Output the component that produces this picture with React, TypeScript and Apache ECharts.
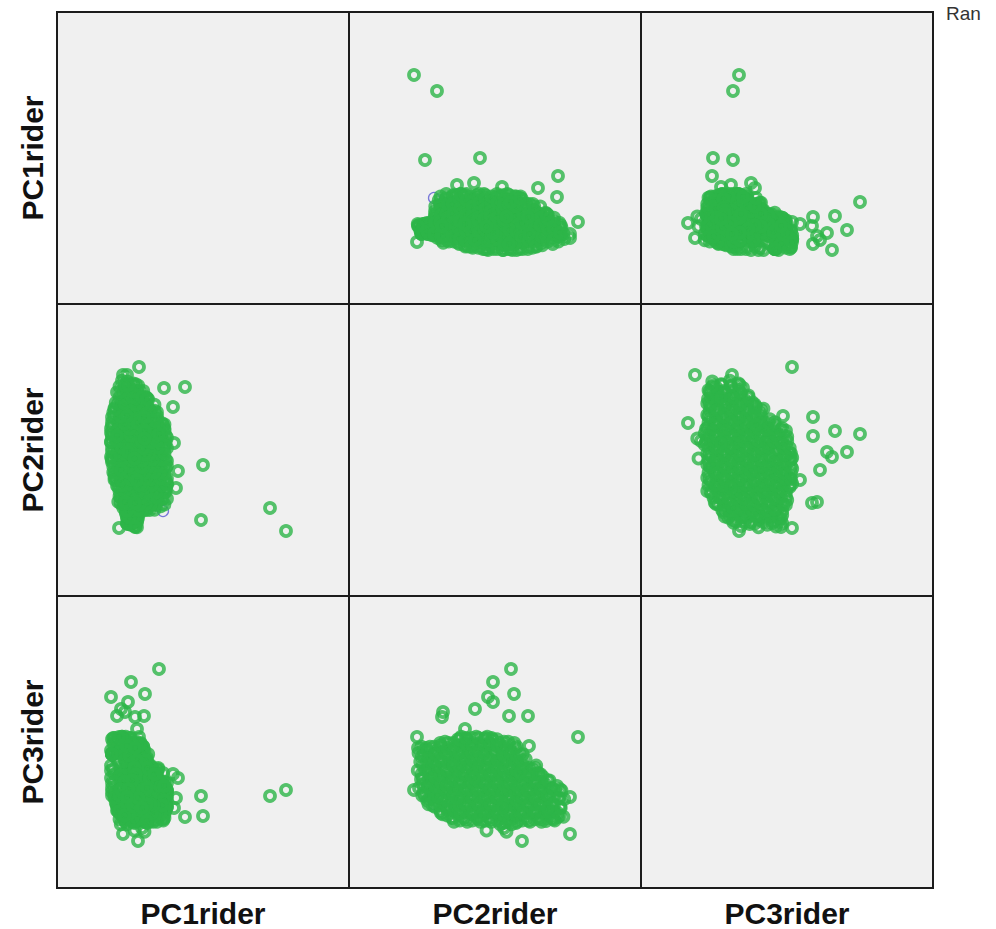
import React, { useEffect, useRef } from "react";
import * as echarts from "echarts";

// Variables of the scatter matrix (row / column order)
const VARS = ["PC1rider", "PC2rider", "PC3rider"];
const AXIS_MIN = [-3, -5, -4];
const AXIS_MAX = [8.68, 6.68, 7.68];
const LEGEND_TITLE = "Ran";

// Each case: [PC1rider, PC2rider, PC3rider] (estimated factor scores)
const coreCases: number[][] = [
  [0.1, -2.2, 0], [-0.15, -2.12, 0.35], [0.2, -2.25, 0.7], [-0.05, -2.15, 1.05], [0.15, -2.22, 1.4], [-0.2, -2.1, 1.65],
  [-0.1, -1.87, -0.5], [0.2, -2.01, -0.2], [-0.2, -1.85, 0.1], [0.05, -2.05, 0.4], [-0.05, -1.95, 0.7], [0.24, -1.89, 1.0], [-0.15, -2.03, 1.3], [0.1, -1.91, 1.6],
  [0.15, -1.78, -0.45], [-0.2, -1.6, -0.15], [0.25, -1.74, 0.15], [-0.05, -1.64, 0.45], [0.1, -1.8, 0.75], [-0.25, -1.68, 1.05], [0.2, -1.61, 1.35], [0, -1.76, 1.65], [-0.15, -1.65, -0.7],
  [0.8, -1.35, -0.9], [-0.2, -1.5, -0.6], [1.15, -1.41, -0.3], [0.3, -1.55, 0], [1.0, -1.37, 0.3], [-0.35, -1.47, 0.6], [0.6, -1.54, 0.9], [0.15, -1.39, 1.2], [0.45, -1.49, 1.5], [0, -1.35, 1.8],
  [0.25, -1.26, -1.05], [1.4, -1.11, -0.75], [-0.35, -1.3, -0.45], [1.05, -1.17, -0.15], [1.25, -1.1, 0.15], [0.05, -1.28, 0.45], [0.85, -1.15, 0.75], [-0.55, -1.23, 1.05], [0.65, -1.12, 1.35], [0.45, -1.3, 1.65], [-0.15, -1.16, 1.85],
  [1.1, -0.88, -1.2], [-0.3, -1.05, -0.9], [0.7, -0.93, -0.6], [1.3, -0.85, -0.3], [-0.5, -1.01, 0], [0.9, -0.91, 0.3], [0.3, -1.04, 0.6], [0.5, -0.85, 0.9], [-0.1, -0.98, 1.2], [0.1, -0.89, 1.5], [-0.2, -1.03, 1.8],
  [0.55, -0.8, -1.35], [0, -0.65, -1.05], [1.35, -0.72, -0.75], [0.2, -0.61, -0.45], [0.95, -0.77, -0.15], [1.15, -0.6, 0.15], [-0.4, -0.75, 0.45], [0.75, -0.68, 0.75], [0.35, -0.8, 1.05], [-0.2, -0.62, 1.35], [0.1, -0.74, 1.65], [-0.55, -0.64, 1.95],
  [1.3, -0.41, -1.2], [-0.05, -0.54, -0.9], [0.9, -0.35, -0.6], [1.4, -0.5, -0.3], [-0.45, -0.38, 0], [1.1, -0.55, 0.3], [0.15, -0.42, 0.6], [0.7, -0.52, 0.9], [-0.65, -0.36, 1.2], [0.5, -0.47, 1.5], [0.35, -0.35, 1.8], [-0.25, -0.51, 2.05],
  [0.1, -0.27, -1.35], [1.2, -0.1, -1.05], [-0.5, -0.24, -0.75], [0.8, -0.14, -0.45], [1.4, -0.3, -0.15], [0.3, -0.18, 0.15], [1.0, -0.11, 0.45], [-0.1, -0.28, 0.75], [0.6, -0.15, 1.05], [-0.7, -0.23, 1.35], [0.45, -0.12, 1.65], [-0.3, -0.3, 1.95],
  [0.4, 0.15, -1.2], [-0.6, 0, -0.9], [1.15, 0.08, -0.6], [0, -0.05, -0.3], [1.35, 0.12, 0], [0.75, 0.03, 0.3], [0.95, -0.03, 0.6], [-0.2, 0.14, 0.9], [0.55, -0.01, 1.2], [0.2, 0.1, 1.5], [-0.75, -0.05, 1.8], [-0.4, 0.09, 2.05],
  [0.85, 0.26, -1.35], [0.05, 0.38, -1.05], [1.4, 0.2, -0.75], [-0.55, 0.35, -0.45], [0.65, 0.28, -0.15], [1.25, 0.4, 0.15], [-0.15, 0.23, 0.45], [1.05, 0.33, 0.75], [0.45, 0.21, 1.05], [-0.8, 0.36, 1.35], [0.25, 0.25, 1.65], [-0.35, 0.4, 1.95],
  [-0.2, 0.61, -1.2], [1.35, 0.45, -0.9], [0.55, 0.64, -0.6], [-0.8, 0.52, -0.3], [1.15, 0.59, 0], [0, 0.47, 0.3], [0.95, 0.65, 0.6], [0.75, 0.5, 0.9], [0.35, 0.57, 1.2], [-0.6, 0.45, 1.5], [0.15, 0.62, 1.8], [-0.4, 0.53, 2.05],
  [0.5, 0.7, -1.35], [-0.45, 0.84, -1.05], [0.9, 0.74, -0.75], [1.3, 0.9, -0.45], [-0.8, 0.77, -0.15], [1.1, 0.87, 0.15], [0.1, 0.71, 0.45], [0.7, 0.82, 0.75], [-0.25, 0.88, 1.05], [0.3, 0.75, 1.35], [-0.05, 0.9, 1.65], [-0.6, 0.73, 1.95],
  [0.25, 1.13, -1.2], [1.05, 0.98, -0.9], [-0.65, 1.15, -0.6], [0.65, 1.01, -0.3], [1.3, 1.07, 0], [-0.3, 0.95, 0.3], [0.85, 1.11, 0.6], [0.1, 0.97, 0.9], [0.45, 1.09, 1.2], [-0.84, 1.15, 1.5], [-0.1, 0.99, 1.8], [-0.45, 1.05, -1.45],
  [1.0, 1.25, -1.35], [-0.35, 1.4, -1.05], [0.2, 1.22, -0.75], [1.4, 1.33, -0.45], [0.6, 1.2, -0.15], [1.2, 1.36, 0.15], [-0.55, 1.28, 0.45], [0.8, 1.39, 0.75], [0.4, 1.23, 1.05], [-0.8, 1.35, 1.35], [0, 1.2, 1.65], [-0.15, 1.37, 1.85],
  [-0.05, 1.65, -1.2], [0.9, 1.51, -0.9], [1.3, 1.62, -0.6], [-0.6, 1.45, -0.3], [0.35, 1.6, 0], [1.1, 1.49, 0.3], [0.7, 1.64, 0.6], [-0.84, 1.53, 0.9], [0.5, 1.58, 1.2], [0.15, 1.46, 1.5], [-0.4, 1.61, 1.8], [-0.2, 1.5, -1.45],
  [0.7, 1.72, -1.35], [1.3, 1.86, -1.05], [-0.55, 1.7, -0.75], [0.3, 1.89, -0.45], [1.1, 1.77, -0.15], [-0.1, 1.85, 0.15], [0.9, 1.73, 0.45], [0.1, 1.9, 0.75], [0.5, 1.75, 1.05], [-0.8, 1.82, 1.35], [-0.35, 1.71, 1.65],
  [0.2, 2.12, -1.2], [-0.55, 1.95, -0.9], [1.0, 2.09, -0.6], [0.6, 1.99, -0.3], [-0.8, 2.15, 0], [0.8, 2.02, 0.3], [-0.05, 2.13, 0.6], [0.4, 1.96, 0.9], [-0.3, 2.07, 1.15],
  [-0.25, 2.24, -1.35], [0.75, 2.39, -1.05], [0, 2.2, -0.75], [1.0, 2.35, -0.45], [-0.5, 2.28, -0.15], [0.5, 2.4, 0.15], [0.25, 2.22, 0.45], [-0.75, 2.33, 0.75],
  [0.5, 2.6, -1.2], [-0.2, 2.47, -0.9], [0.9, 2.65, -0.6], [-0.7, 2.51, -0.3], [0.3, 2.62, 0], [0.7, 2.45, 0.3], [-0.45, 2.57, 0.6], [0.05, 2.49, 0.9],
  [0.05, 2.7, -1.35], [0.65, 2.86, -1.05], [-0.4, 2.77, -0.75], [0.25, 2.89, -0.45], [-0.65, 2.73, -0.15], [0.45, 2.84, 0.15], [-0.15, 2.75, 0.45],
  [-0.35, 3.13, -1.2], [0.3, 2.99, -0.9], [-0.6, 3.15, -0.6], [0.55, 2.96, -0.3], [0.1, 3.09, 0], [-0.1, 3.02, 0.3],
  [0.1, 3.23, -1.3], [-0.3, 3.35, -1.0], [0.3, 3.2, -0.7], [-0.5, 3.38, -0.4], [0, 3.26, -0.1],
  [-0.2, 3.58, -1.15], [0.15, 3.47, -0.8], [-0.4, 3.61, -0.45], [0.05, 3.5, -0.1],
];

// More cases inside the dense cloud
const denseCases: number[][] = [
  [0, -2.07, -0.3], [0.2, -2.04, 0.15], [-0.2, -2.1, 0.55], [0.1, -2.05, 0.9], [-0.1, -2.09, 1.25], [0.05, -2.03, 1.5],
  [-0.05, -1.82, -0.65], [0.15, -1.8, -0.3], [-0.2, -1.85, 0], [0.22, -1.83, 0.3], [0, -1.79, 0.6], [-0.15, -1.84, 0.9], [0.1, -1.81, 1.2], [-0.1, -1.86, 1.5],
  [0.5, -1.57, -0.75], [-0.25, -1.6, -0.45], [0.9, -1.55, -0.15], [0.1, -1.59, 0.15], [0.7, -1.56, 0.45], [-0.1, -1.6, 0.75], [0.4, -1.58, 1.05], [0.25, -1.55, 1.35], [-0.2, -1.59, 1.65],
  [0.6, -1.32, -1.0], [1.3, -1.34, -0.7], [-0.45, -1.3, -0.4], [0.95, -1.33, -0.1], [0.2, -1.31, 0.2], [0.75, -1.35, 0.5], [-0.1, -1.3, 0.8], [0.55, -1.33, 1.1], [-0.3, -1.31, 1.4], [0.3, -1.34, 1.7],
  [0.8, -1.07, -1.1], [-0.25, -1.05, -0.8], [1.2, -1.09, -0.5], [0, -1.06, -0.2], [0.6, -1.1, 0.1], [1.0, -1.04, 0.4], [-0.45, -1.08, 0.7], [0.45, -1.05, 1.0], [0.15, -1.09, 1.3], [0.35, -1.06, 1.6],
  [-0.05, -0.82, -1.2], [1.2, -0.8, -0.9], [0.4, -0.84, -0.6], [-0.5, -0.81, -0.3], [1.35, -0.83, 0], [0.8, -0.8, 0.3], [1.0, -0.85, 0.6], [0.15, -0.82, 0.9], [0.6, -0.84, 1.2], [-0.3, -0.8, 1.5], [0.25, -0.83, 1.8],
  [0.2, -0.57, -1.3], [1.0, -0.55, -1.0], [-0.6, -0.59, -0.7], [0.6, -0.56, -0.4], [1.2, -0.58, -0.1], [1.4, -0.55, 0.2], [0, -0.6, 0.5], [0.8, -0.57, 0.8], [-0.2, -0.55, 1.1], [0.4, -0.59, 1.4], [0.3, -0.56, 1.7], [-0.4, -0.58, 1.95],
  [0.95, -0.32, -1.25], [0.35, -0.3, -0.95], [1.35, -0.34, -0.65], [-0.25, -0.31, -0.35], [0.75, -0.33, -0.05], [1.15, -0.3, 0.25], [-0.7, -0.35, 0.55], [0.55, -0.32, 0.85], [0.05, -0.3, 1.15], [-0.45, -0.34, 1.45], [0.15, -0.31, 1.75], [-0.05, -0.33, 2.0],
  [-0.3, -0.07, -1.3], [0.7, -0.05, -1.0], [1.3, -0.09, -0.7], [0.1, -0.06, -0.4], [1.1, -0.08, -0.1], [0.9, -0.05, 0.2], [-0.5, -0.1, 0.5], [0.5, -0.07, 0.8], [0.3, -0.05, 1.1], [-0.7, -0.09, 1.4], [0.2, -0.06, 1.7], [-0.1, -0.08, 2.0],
  [1.25, 0.18, -1.25], [0.25, 0.2, -0.95], [-0.35, 0.16, -0.65], [0.85, 0.19, -0.35], [0.05, 0.15, -0.05], [1.05, 0.2, 0.25], [0.65, 0.17, 0.55], [-0.15, 0.19, 0.85], [0.45, 0.15, 1.15], [-0.55, 0.2, 1.45], [0.35, 0.16, 1.75], [-0.75, 0.18, 2.0],
  [0.2, 0.43, -1.3], [1.0, 0.45, -1.0], [-0.6, 0.41, -0.7], [0.6, 0.44, -0.4], [1.4, 0.4, -0.1], [1.2, 0.46, 0.2], [-0.2, 0.42, 0.5], [0.8, 0.45, 0.8], [0.4, 0.41, 1.1], [-0.8, 0.44, 1.4], [0, 0.42, 1.7], [-0.4, 0.46, 2.0],
  [-0.1, 0.68, -1.25], [0.9, 0.7, -0.95], [0.3, 0.66, -0.65], [1.1, 0.69, -0.35], [-0.5, 0.65, -0.05], [1.3, 0.7, 0.25], [0.7, 0.67, 0.55], [0.1, 0.71, 0.85], [0.5, 0.66, 1.15], [-0.3, 0.69, 1.45], [0, 0.65, 1.75], [-0.7, 0.7, 2.0],
  [1.25, 0.93, -1.3], [0.05, 0.95, -1.0], [0.65, 0.91, -0.7], [-0.6, 0.94, -0.4], [1.4, 0.92, -0.1], [0.85, 0.96, 0.2], [-0.15, 0.9, 0.5], [1.05, 0.93, 0.8], [0.25, 0.95, 1.1], [0.45, 0.91, 1.4], [-0.4, 0.94, 1.7], [-0.8, 0.92, 1.95],
  [0.6, 1.18, -1.4], [-0.4, 1.2, -1.1], [1.35, 1.16, -0.8], [0.2, 1.19, -0.5], [0.8, 1.15, -0.2], [1.2, 1.21, 0.1], [-0.84, 1.17, 0.4], [1.0, 1.2, 0.7], [0.4, 1.16, 1.0], [-0.2, 1.19, 1.3], [0, 1.15, 1.6], [-0.6, 1.2, 1.85],
  [0.35, 1.43, -1.3], [1.15, 1.45, -1.0], [-0.3, 1.41, -0.7], [0.75, 1.44, -0.4], [1.35, 1.42, -0.1], [-0.8, 1.46, 0.2], [0.95, 1.4, 0.5], [0.15, 1.44, 0.8], [0.55, 1.41, 1.1], [-0.55, 1.45, 1.4], [-0.05, 1.42, 1.7],
  [0.1, 1.68, -1.4], [0.9, 1.7, -1.1], [-0.35, 1.66, -0.8], [1.3, 1.69, -0.5], [0.5, 1.65, -0.2], [1.1, 1.71, 0.1], [0.7, 1.67, 0.4], [-0.84, 1.7, 0.7], [0.3, 1.66, 1.0], [-0.1, 1.69, 1.3], [-0.6, 1.65, 1.6],
  [-0.05, 1.93, -1.3], [0.8, 1.95, -1.0], [1.2, 1.91, -0.7], [-0.55, 1.94, -0.4], [0.4, 1.92, -0.1], [1.0, 1.96, 0.2], [-0.3, 1.9, 0.5], [0.6, 1.94, 0.8], [0.2, 1.92, 1.1], [-0.8, 1.95, 1.35],
  [0.45, 2.18, -1.3], [-0.3, 2.2, -1.0], [0.85, 2.16, -0.7], [-0.7, 2.19, -0.4], [0.15, 2.15, -0.1], [1.0, 2.2, 0.2], [-0.45, 2.17, 0.5], [0.6, 2.19, 0.8],
  [-0.5, 2.43, -1.25], [0.3, 2.45, -0.95], [0.75, 2.41, -0.65], [-0.1, 2.44, -0.35], [0.55, 2.42, -0.05], [-0.7, 2.46, 0.25], [0.9, 2.41, 0.55], [0.1, 2.44, 0.8],
  [0.35, 2.68, -1.25], [-0.55, 2.7, -0.95], [0.6, 2.66, -0.65], [0, 2.69, -0.35], [0.45, 2.67, -0.05], [-0.3, 2.7, 0.25], [0.15, 2.66, 0.55],
  [0.4, 2.93, -1.2], [-0.2, 2.95, -0.9], [0.15, 2.91, -0.6], [-0.5, 2.94, -0.3], [0.6, 2.92, 0], [0, 2.95, 0.3],
  [0.2, 3.18, -1.25], [0.45, 3.2, -0.95], [-0.2, 3.16, -0.65], [0, 3.19, -0.35], [-0.45, 3.17, -0.05],
  [-0.3, 3.43, -1.1], [0.05, 3.45, -0.75], [0.25, 3.41, -0.4], [-0.15, 3.44, -0.05],
];

// Cases lying away from the main cloud
const outlyingCases: number[][] = [
  [6.16, -2.4, -0.08], [5.52, -1.48, -0.32], [1.08, 1.48, 4.76],
  [0.28, 4.16, 2.04], [-0.36, 3.84, -1.84], [-0.2, 3.84, -0.36], [1.28, 3.32, 0.08],
  [2.12, 3.36, -1.16], [1.64, 2.56, 0.56], [0.4, 2.96, -0.8], [2.84, 0.24, -1.12],
  [2.76, -1.96, -0.32], [0.24, 1.92, -2.12], [-0.2, 2.2, 1.68], [0.48, 2.16, 2.88],
  [-0.6, 1.4, 2.88], [0.52, 1.6, 3.76], [-0.04, 0.76, 4.24], [-0.16, 0.76, 3.44],
  [-0.84, 0.56, 3.64], [-0.44, 0.04, 3.16], [0.2, -0.36, 2.36], [-0.28, -1.24, 3.04],
  [0.12, -1.28, 2.84], [0.12, -2.24, 1.6], [-0.52, -2.28, 2.04], [0.6, 2.88, -1.32],
  [1.76, -0.68, -0.4], [1.84, 0.0, 0.4], [1.68, 1.12, -0.8], [1.24, 1.84, 0.6],
  [0.1, 0.5, -1.7], [0.4, 1.2, -1.6], [0.5, 1.3, -1.75],
];

// A second group, almost fully hidden behind the green markers
const otherGroupCases: number[][] = [[1.24, -1.6, -0.64]];

const GREEN = "#2db549";
const BLUE = "#5a5ad2";

export default function App() {
  const ref = useRef<HTMLDivElement>(null);

  useEffect(() => {
    document.body.style.margin = "0";
    const chart = echarts.init(ref.current!, null, { renderer: "svg" });
    const L = 57;
    const T = 12;
    const S = 292;
    const allCases = coreCases.concat(denseCases, outlyingCases);

    const grids: any[] = [];
    const xAxes: any[] = [];
    const yAxes: any[] = [];
    const series: any[] = [];
    const graphics: any[] = [];

    for (let r = 0; r < 3; r++) {
      for (let c = 0; c < 3; c++) {
        const i = r * 3 + c;
        grids.push({
          left: L + S * c,
          top: T + S * r,
          width: S,
          height: S,
          show: true,
          backgroundColor: "#f0f0f0",
          borderColor: "#1c1c1c",
          borderWidth: 2,
          containLabel: false,
        });
        xAxes.push({ type: "value", gridIndex: i, min: AXIS_MIN[c], max: AXIS_MAX[c], show: false });
        yAxes.push({ type: "value", gridIndex: i, min: AXIS_MIN[r], max: AXIS_MAX[r], show: false });
        if (r !== c) {
          series.push({
            type: "scatter",
            xAxisIndex: i,
            yAxisIndex: i,
            silent: true,
            symbol: "circle",
            symbolSize: 11,
            itemStyle: { color: "rgba(0,0,0,0)", borderColor: BLUE, borderWidth: 1.3 },
            data: otherGroupCases.map((p) => [p[c], p[r]]),
          });
          series.push({
            type: "scatter",
            xAxisIndex: i,
            yAxisIndex: i,
            silent: true,
            symbol: "circle",
            symbolSize: 10,
            large: false,
            itemStyle: { color: "rgba(0,0,0,0)", borderColor: GREEN, borderWidth: 3.8 },
            data: allCases.map((p) => [p[c], p[r]]),
          });
        }
      }
    }

    const labelStyle = {
      fontSize: 30,
      fontWeight: "bold",
      fontFamily: '"Liberation Sans", Arial, sans-serif',
      fill: "#111",
      align: "center",
      verticalAlign: "middle",
    };
    for (let k = 0; k < 3; k++) {
      graphics.push({
        type: "text",
        x: L + S * k + S / 2,
        y: 913,
        style: { ...labelStyle, text: VARS[k] },
      });
      graphics.push({
        type: "text",
        x: 32,
        y: T + S * k + S / 2,
        rotation: Math.PI / 2,
        style: { ...labelStyle, text: VARS[k] },
      });
    }
    graphics.push({
      type: "text",
      x: 946,
      y: 13,
      style: {
        text: LEGEND_TITLE,
        fontSize: 19,
        fontFamily: '"Liberation Sans", Arial, sans-serif',
        fill: "#333",
        align: "left",
        verticalAlign: "middle",
      },
    });

    chart.setOption({
      animation: false,
      backgroundColor: "#ffffff",
      grid: grids,
      xAxis: xAxes,
      yAxis: yAxes,
      series,
      graphic: graphics,
    });

    return () => chart.dispose();
  }, []);

  return <div ref={ref} style={{ width: 996, height: 929 }} />;
}
